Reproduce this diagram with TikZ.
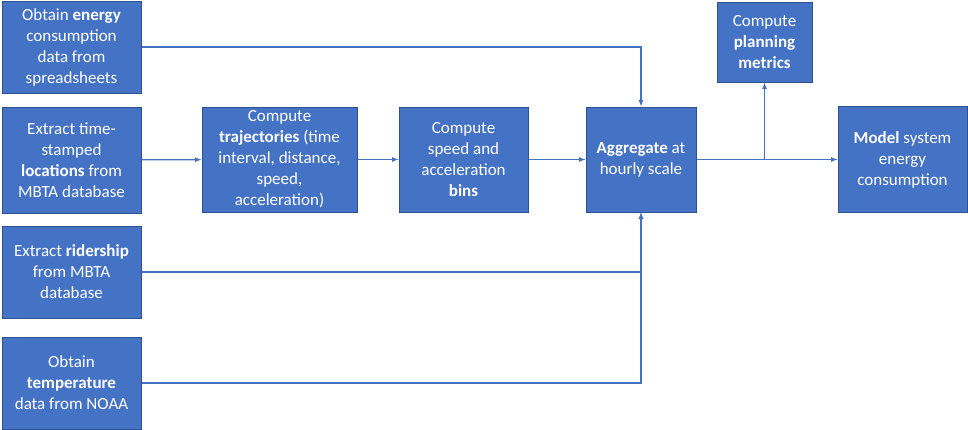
\documentclass[tikz,border=0pt]{standalone}
\usepackage{fontspec}
\setmainfont{Carlito}
\usepackage{tikz}
\usetikzlibrary{positioning}
\usetikzlibrary{arrows}
\definecolor{boxblue}{HTML}{4472C4}
\definecolor{edgeblue}{HTML}{2F528F}
\tikzset {
  x=1pt, y=-1pt,
  % process boxes
  proc/.style = {draw=edgeblue, fill=boxblue, line width=1pt, text=white,
    align=center, inner sep=0pt,
    font=\fontsize{17}{21}\selectfont},
  % connectors between the steps
  flow/.style={boxblue, line width=1.2pt, -latex},
  link/.style={boxblue, line width=1.2pt},
}

\begin{document}
\begin{tikzpicture}
  \useasboundingbox (0,0) rectangle (968,429);

  % input data
  \node[proc, minimum width=139pt, minimum height=92pt] (energy) at (71.5,47)
    {Obtain \textbf{energy}\\consumption\\data from\\spreadsheets};
  \node[proc, minimum width=139pt, minimum height=106pt] (locations) at (71.5,160)
    {Extract time-\\stamped\\\textbf{locations} from\\MBTA database};
  \node[proc, minimum width=139pt, minimum height=92pt] (ridership) at (71.5,272)
    {Extract \textbf{ridership}\\from MBTA\\database};
  \node[proc, minimum width=139pt, minimum height=92pt] (temperature) at (71.5,383)
    {Obtain\\\textbf{temperature}\\data from NOAA};

  % processing steps
  \node[proc, minimum width=155pt, minimum height=105pt] (trajectories) at (279.5,159.5)
    {Compute\\\textbf{trajectories} (time\\interval, distance,\\speed,\\acceleration)};
  \node[proc, minimum width=129pt, minimum height=105pt] (bins) at (463.5,159.5)
    {Compute\\speed and\\acceleration\\\textbf{bins}};
  \node[proc, minimum width=110pt, minimum height=105pt] (aggregate) at (641,159.5)
    {\textbf{Aggregate} at\\hourly scale};
  \node[proc, minimum width=95pt, minimum height=80pt] (planning) at (764.5,42)
    {Compute\\\textbf{planning}\\\textbf{metrics}};
  \node[proc, minimum width=129pt, minimum height=106pt] (model) at (902.5,159.5)
    {\textbf{Model} system\\energy\\consumption};

  \coordinate (split) at (aggregate.east -| planning.south);

  \draw[flow] (energy) -| (aggregate);
  \draw[flow] (locations) -- (trajectories);
  \draw[flow] (trajectories) -- (bins);
  \draw[flow] (bins) -- (aggregate);
  \draw[flow] (ridership) -| (aggregate);
  \draw[flow] (temperature) -| (aggregate);
  \draw[flow] (aggregate) -- (model);
  \draw[flow] (split) -- (planning);
\end{tikzpicture}
\end{document}
